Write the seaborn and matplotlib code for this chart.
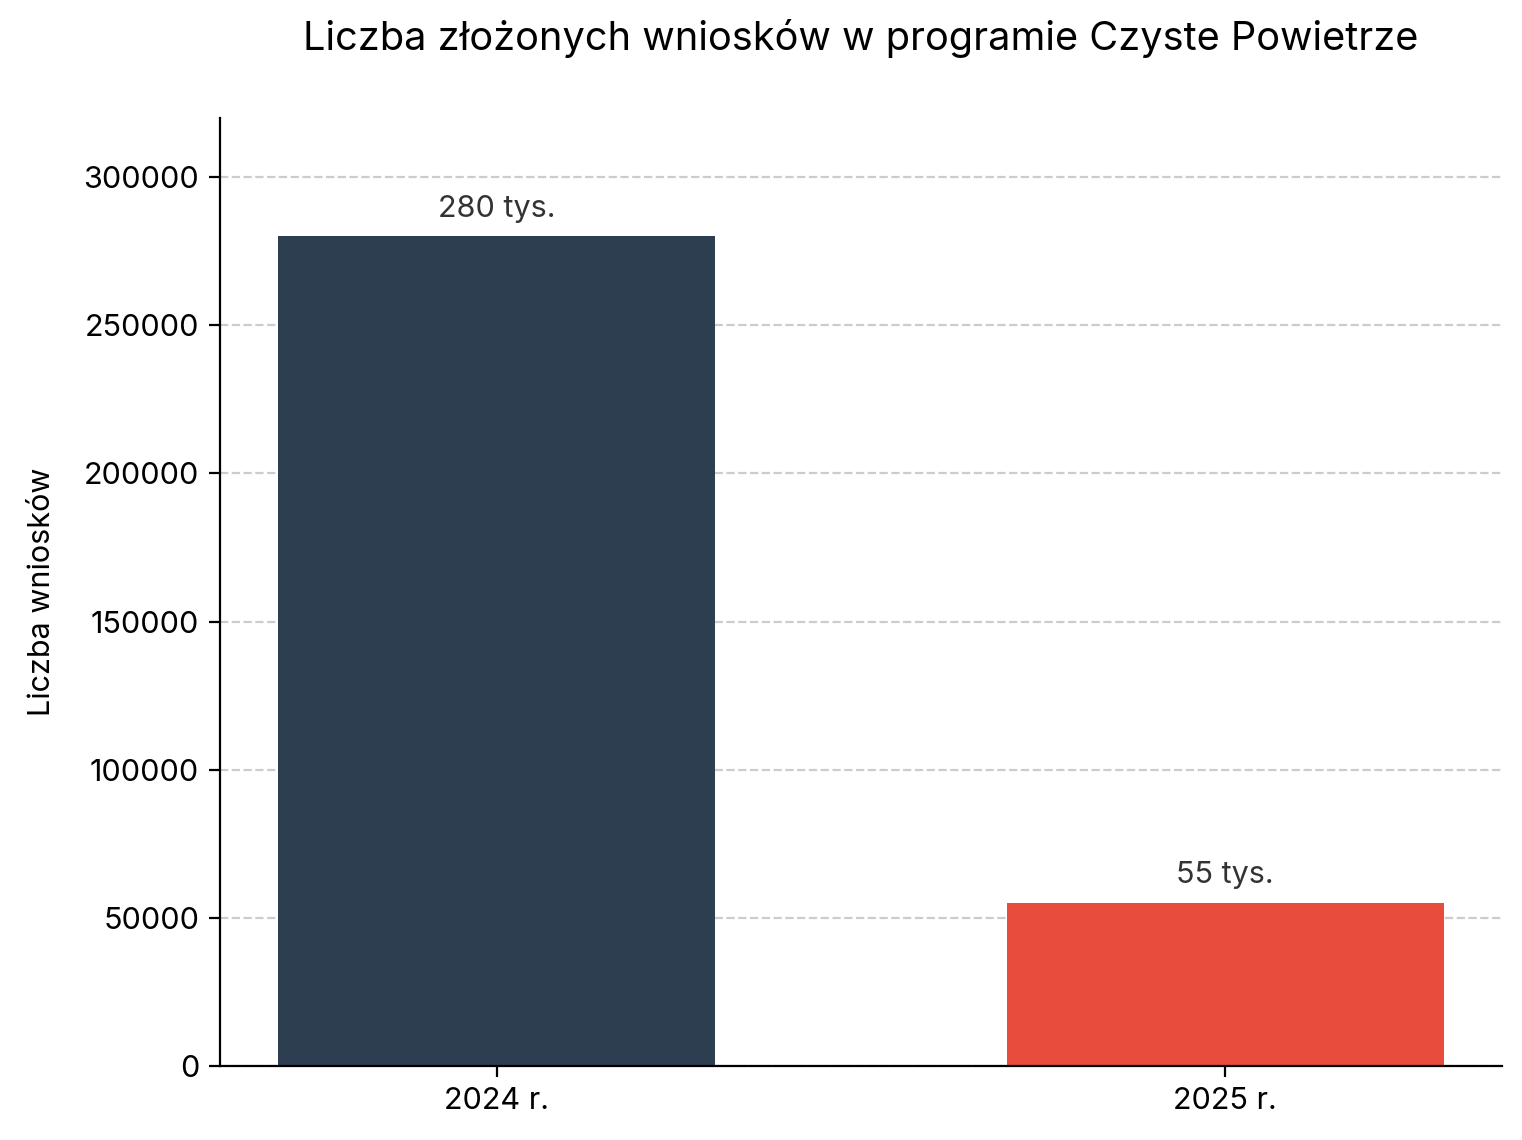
import matplotlib
matplotlib.use("Agg")
import matplotlib.pyplot as plt
import seaborn as sns
import pandas as pd

categories = ["2024 r.", "2025 r."]
values = [280000, 55000]
labels = ["280 tys.", "55 tys."]
colors = ["#2c3e50", "#e74c3c"]

sns.set_theme(style="ticks")
plt.rcParams["font.family"] = ["Inter", "DejaVu Sans"]
plt.rcParams["text.color"] = "black"
plt.rcParams["axes.labelcolor"] = "black"
plt.rcParams["xtick.color"] = "black"
plt.rcParams["ytick.color"] = "black"

df = pd.DataFrame({"rok": categories, "wnioski": values})

fig = plt.figure(figsize=(7.61, 5.70), dpi=200)
ax = fig.add_axes([220/1522, 1 - 1066/1140, (1502-220)/1522, (1066-118)/1140])

sns.barplot(data=df, x="rok", y="wnioski", hue="rok", palette=colors,
            width=0.6, legend=False, ax=ax, saturation=1, linewidth=0)

for i, (v, lab) in enumerate(zip(values, labels)):
    ax.annotate(lab, (i, v), xytext=(0, 5), textcoords="offset points",
                ha="center", va="bottom", fontsize=11, color="#333333")

ax.set_ylim(0, 320000)
ax.set_xlim(-0.38, 1.38)
ax.set_yticks([0, 50000, 100000, 150000, 200000, 250000, 300000])
ax.yaxis.grid(True, linestyle="--", color="#cccccc", linewidth=0.8)
ax.set_axisbelow(True)
ax.set_xlabel("")
ax.set_ylabel("Liczba wniosków", fontsize=11, labelpad=10)
ax.tick_params(axis="both", labelsize=11, length=4, width=0.8, color="black")
for s in ["left", "bottom"]:
    ax.spines[s].set_color("black")
    ax.spines[s].set_linewidth(0.8)
sns.despine(ax=ax)
fig.text((220 + 1502) / 2 / 1522, 1 - 38 / 1140,
         "Liczba złożonych wniosków w programie Czyste Powietrze",
         fontsize=14.3, ha="center", va="center", color="black")

fig.savefig("out.png", dpi=200)
